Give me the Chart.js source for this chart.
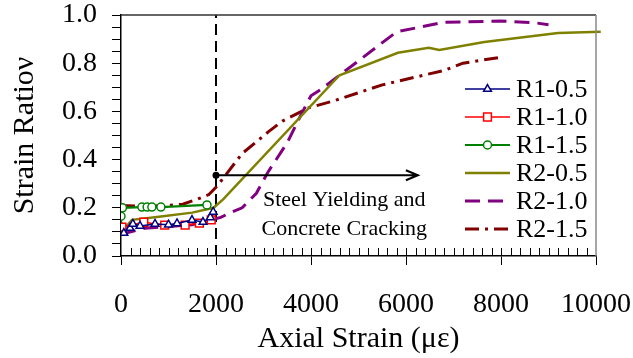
<!DOCTYPE html>
<html>
<head>
<meta charset="utf-8">
<script src="https://cdn.jsdelivr.net/npm/chart.js@4/dist/chart.umd.min.js"></script>
<style>
  html, body { margin: 0; padding: 0; background: #fff; }
  canvas { display: block; }
</style>
</head>
<body>
<canvas id="strainChart" width="633" height="358"></canvas>
<script>
// series, as [axial strain (με), strain ratio]
const seriesNames = ['R1-0.5', 'R1-1.0', 'R1-1.5', 'R2-0.5', 'R2-1.0', 'R2-1.5'];
const r1_05 = [[60, 0.095], [190, 0.116], [250, 0.133], [400, 0.125], [716, 0.133], [1000, 0.13],
  [1179, 0.135], [1495, 0.149], [1726, 0.141], [1880, 0.16], [1940, 0.183]];
const r1_10 = [[20, 0.12], [480, 0.14], [920, 0.128], [1350, 0.128], [1650, 0.136], [1900, 0.15]];
const r1_15 = [[0, 0.12], [0, 0.165], [30, 0.2], [440, 0.203], [550, 0.203], [650, 0.203],
  [840, 0.203], [1810, 0.212]];
const r2_05 = [[100, 0.12], [230, 0.15], [800, 0.163], [1500, 0.18], [1950, 0.2], [2150, 0.235],
  [4600, 0.75], [5830, 0.843], [6480, 0.864], [6700, 0.855], [7650, 0.888], [9200, 0.925], [10100, 0.93]];
const r2_10 = [[0, 0.09], [500, 0.115], [1500, 0.13], [2100, 0.16], [2250, 0.175], [2550, 0.2],
  [2850, 0.26], [3100, 0.35], [3500, 0.47], [3800, 0.59], [4000, 0.665], [4200, 0.69], [4600, 0.75],
  [5800, 0.93], [6800, 0.97], [8000, 0.975], [8700, 0.968], [9000, 0.96]];
const r2_15 = [[0, 0.21], [500, 0.205], [1000, 0.21], [1300, 0.215], [1600, 0.235], [1850, 0.255],
  [2000, 0.285], [2200, 0.335], [2550, 0.425], [3100, 0.515], [3400, 0.56], [3950, 0.615],
  [4500, 0.645], [5500, 0.71], [6800, 0.77], [7200, 0.8], [8000, 0.825]];

// axes and annotation
const xMax = 10000, xMajor = 2000, xMinor = 200;
const yMax = 1.0, yMinor = 0.05, yMajor = 0.2;
const yieldStrain = 2000;
const arrowEnd = 6250, arrowLevel = 0.335;
const noteLines = ['Steel Yielding and', 'Concrete Cracking'];
const noteX = 4700, noteLevels = [0.23, 0.11];

const FONT = "'Liberation Serif', 'Times New Roman', serif";

const toPts = a => a.map(p => ({ x: p[0], y: p[1] }));

function series(label, data, color, width, extra) {
  return Object.assign({
    label: label,
    data: toPts(data),
    borderColor: color,
    backgroundColor: color,
    borderWidth: width,
    pointRadius: 0,
    pointHoverRadius: 0,
    pointBackgroundColor: '#fff',
    pointBorderColor: color,
    pointBorderWidth: 1.5,
    tension: 0,
    fill: false
  }, extra || {});
}

const datasets = [
  series(seriesNames[0], r1_05, '#000080', 1.5, { pointStyle: 'triangle', pointRadius: 4.5, pointHoverRadius: 4.5 }),
  series(seriesNames[1], r1_10, '#ff0000', 1.5, { pointStyle: 'rect', pointRadius: 5.5, pointHoverRadius: 5.5 }),
  series(seriesNames[2], r1_15, '#008000', 2.2, { pointStyle: 'circle', pointRadius: 4, pointHoverRadius: 4 }),
  series(seriesNames[3], r2_05, '#808000', 2.5, { clip: 8 }),
  series(seriesNames[4], r2_10, '#800080', 3, { borderDash: [15, 8] }),
  series(seriesNames[5], r2_15, '#800000', 3, { borderDash: [14, 6, 3, 6] })
];

// frame, minor ticks, yield line, arrow and note
const decorPlugin = {
  id: 'decor',
  beforeDatasetsDraw(chart) {
    const { ctx, chartArea: a, scales: { x } } = chart;
    const px = x.getPixelForValue(yieldStrain);
    ctx.save();
    ctx.strokeStyle = '#000';
    ctx.lineWidth = 2;
    ctx.setLineDash([11, 6]);
    ctx.beginPath();
    ctx.moveTo(px, a.bottom);
    ctx.lineTo(px, a.top);
    ctx.stroke();
    ctx.restore();
  },
  afterDatasetsDraw(chart) {
    const { ctx, chartArea: a, scales: { x, y } } = chart;
    ctx.save();
    // frame top/right
    ctx.lineWidth = 1.5;
    ctx.strokeStyle = '#333';
    ctx.beginPath();
    ctx.moveTo(a.left, a.top);
    ctx.lineTo(a.right, a.top);
    ctx.stroke();
    ctx.strokeStyle = '#888';
    ctx.beginPath();
    ctx.moveTo(a.right, a.top);
    ctx.lineTo(a.right, a.bottom);
    ctx.stroke();
    // inner minor ticks on x
    ctx.strokeStyle = '#000';
    ctx.lineWidth = 1;
    for (let v = xMinor; v < xMax; v += xMinor) {
      const px = Math.round(x.getPixelForValue(v)) + 0.5;
      ctx.beginPath();
      ctx.moveTo(px, a.bottom);
      ctx.lineTo(px, a.bottom - 8);
      ctx.stroke();
    }
    // arrow
    const x0 = x.getPixelForValue(yieldStrain), x1 = x.getPixelForValue(arrowEnd);
    const ay = y.getPixelForValue(arrowLevel);
    ctx.lineWidth = 2;
    ctx.beginPath();
    ctx.moveTo(x0, ay);
    ctx.lineTo(x1, ay);
    ctx.moveTo(x1 - 12, ay - 5);
    ctx.lineTo(x1, ay);
    ctx.lineTo(x1 - 12, ay + 5);
    ctx.stroke();
    ctx.fillStyle = '#000';
    ctx.beginPath();
    ctx.arc(x0, ay, 3.5, 0, Math.PI * 2);
    ctx.fill();
    // note
    ctx.font = '22px ' + FONT;
    ctx.textAlign = 'center';
    ctx.textBaseline = 'middle';
    noteLines.forEach((t, i) => {
      ctx.fillText(t, x.getPixelForValue(noteX), y.getPixelForValue(noteLevels[i]));
    });
    ctx.restore();
  }
};

const legendPlugin = {
  id: 'sideLegend',
  afterDatasetsDraw(chart) {
    const { ctx, chartArea: a } = chart;
    const lx = a.right - 131, ly = a.top + 74, gap = 28, len = 45;
    chart.data.datasets.forEach((ds, i) => {
      const yy = ly + i * gap;
      ctx.save();
      ctx.strokeStyle = ds.borderColor;
      ctx.lineWidth = ds.borderWidth;
      ctx.setLineDash(ds.borderDash || []);
      ctx.beginPath();
      ctx.moveTo(lx, yy);
      ctx.lineTo(lx + len, yy);
      ctx.stroke();
      ctx.setLineDash([]);
      if (ds.pointRadius > 0) {
        ctx.fillStyle = '#fff';
        ctx.strokeStyle = ds.borderColor;
        ctx.lineWidth = ds.pointBorderWidth;
        Chart.helpers.drawPoint(ctx, { pointStyle: ds.pointStyle, radius: ds.pointRadius, borderWidth: ds.pointBorderWidth, rotation: 0 }, lx + len / 2, yy);
      }
      ctx.fillStyle = '#000';
      ctx.font = '26px ' + FONT;
      ctx.textAlign = 'left';
      ctx.textBaseline = 'middle';
      ctx.fillText(ds.label, lx + len + 6, yy + 1);
      ctx.restore();
    });
  }
};

new Chart(document.getElementById('strainChart'), {
  type: 'line',
  data: { datasets: datasets },
  options: {
    responsive: false,
    animation: false,
    devicePixelRatio: 1,
    layout: { padding: { top: 15, right: 37, left: 0, bottom: 0 } },
    plugins: { legend: { display: false }, tooltip: { enabled: false } },
    events: [],
    scales: {
      x: {
        type: 'linear',
        min: 0,
        max: xMax,
        ticks: { stepSize: xMajor, color: '#000', font: { family: FONT, size: 28 }, padding: 23, maxRotation: 0, autoSkip: false, callback: v => String(v) },
        grid: { drawOnChartArea: false, drawTicks: true, tickLength: 9, tickColor: '#000', tickWidth: 1 },
        border: { color: '#000', width: 1.5 },
        title: { display: true, text: 'Axial Strain (με)', color: '#000', font: { family: FONT, size: 30 }, padding: { top: 0, bottom: 1 } },
        afterFit(s) { s.height = 102; s.paddingLeft = 0; s.paddingRight = 0; }
      },
      y: {
        min: 0,
        max: yMax,
        ticks: {
          stepSize: yMinor,
          autoSkip: false,
          color: '#000',
          font: { family: FONT, size: 28, lineHeight: 1 },
          padding: 15,
          callback: v => Math.abs(v / yMajor - Math.round(v / yMajor)) < 1e-6 ? v.toFixed(1) : ''
        },
        grid: { drawOnChartArea: false, drawTicks: true, tickLength: 9, tickColor: '#000', tickWidth: 1 },
        border: { color: '#000', width: 1.5 },
        title: { display: true, text: 'Strain Ratioν', color: '#000', font: { family: FONT, size: 30 }, padding: { top: 7, bottom: 0 } },
        afterFit(s) { s.width = 121; s.paddingTop = 0; s.paddingBottom = 0; }
      }
    }
  },
  plugins: [decorPlugin, legendPlugin]
});
</script>
</body>
</html>
